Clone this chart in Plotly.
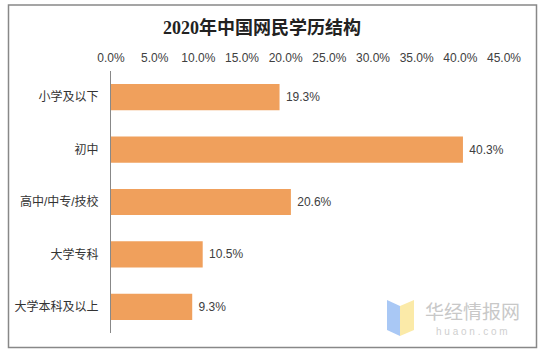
import plotly.graph_objects as go

categories = ["小学及以下", "初中", "高中/中专/技校", "大学专科", "大学本科及以上"]
values = [19.3, 40.3, 20.6, 10.5, 9.3]
tick_vals = [0, 5, 10, 15, 20, 25, 30, 35, 40, 45]
tick_text = ["0.0%", "5.0%", "10.0%", "15.0%", "20.0%", "25.0%", "30.0%", "35.0%", "40.0%", "45.0%"]
title = "2020年中国网民学历结构"

W, H = 543, 355
L, R, T, B = 111, 39, 71, 22
PW, PH = W - L - R, H - T - B
font_main = "Liberation Sans, Arial, Noto Sans CJK SC, sans-serif"


def px(x):
    return (x - L) / PW


def py(y):
    return (H - B - y) / PH


fig = go.Figure(go.Bar(
    x=values, y=categories, orientation="h",
    marker=dict(color="#F0A05C", line=dict(width=0)),
    text=[f" {v:.1f}%" for v in values], textposition="outside",
    textfont=dict(size=12, color="#404040", family=font_main),
    cliponaxis=False, width=0.5, hoverinfo="skip",
))

fig.update_layout(
    width=W, height=H,
    margin=dict(l=L, r=R, t=T, b=B, autoexpand=False),
    paper_bgcolor="white", plot_bgcolor="white",
    showlegend=False,
    font=dict(family=font_main, size=12, color="#404040"),
    title=dict(text=title, x=262 / W, xanchor="center", y=1 - 28 / H, yanchor="middle",
               font=dict(family="Liberation Serif, Noto Sans CJK SC, serif", size=18, color="#222222",
                         weight="bold")),
    xaxis=dict(side="top", range=[0, 45], tickvals=tick_vals, ticktext=tick_text,
               showgrid=False, zeroline=False, showline=False, ticks="", automargin=False,
               ticklabelstandoff=6, tickfont=dict(size=12, color="#404040")),
    yaxis=dict(autorange="reversed", showgrid=False, zeroline=False, showline=True,
               linecolor="#888888", linewidth=1, ticks="", ticklabelstandoff=9, automargin=False,
               tickfont=dict(size=12, color="#333333")),
    shapes=[
        dict(type="rect", xref="paper", yref="paper", x0=px(8.5), x1=px(536.5),
             y0=py(347.5), y1=py(5), line=dict(color="#888888", width=1.5), layer="below"),
        # watermark icon
        dict(type="path", xref="paper", yref="paper",
             path=f"M {px(387)} {py(300)} L {px(400)} {py(306)} L {px(400)} {py(336)} L {px(387)} {py(330)} Z",
             fillcolor="#A9C8F5", line=dict(width=0)),
        dict(type="path", xref="paper", yref="paper",
             path=f"M {px(400)} {py(306)} L {px(414)} {py(300)} L {px(414)} {py(330)} L {px(400)} {py(336)} Z",
             fillcolor="#FBEAA8", line=dict(width=0)),
    ],
    annotations=[
        dict(text="华经情报网", xref="paper", yref="paper", x=px(472), y=py(310),
             showarrow=False, xanchor="center", yanchor="middle",
             font=dict(family="Noto Sans CJK SC", size=19, color="#C8C8C8")),
        dict(text="h u a o n . c o m", xref="paper", yref="paper", x=px(472), y=py(331),
             showarrow=False, xanchor="center", yanchor="middle",
             font=dict(family=font_main, size=10, color="#CFCFCF")),
    ],
)

fig.write_html("out.html", config={"displayModeBar": False},
               post_script="document.body.style.margin='0px';")
